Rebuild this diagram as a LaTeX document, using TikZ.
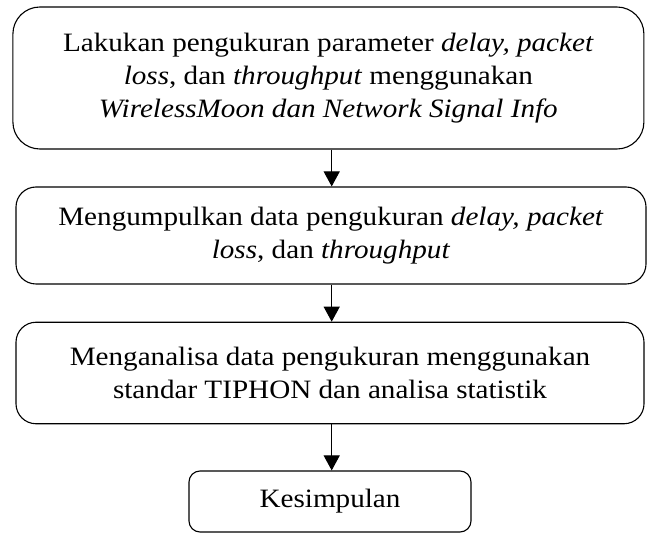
\documentclass[tikz,border=0pt]{standalone}
\usepackage{fontspec}
\setmainfont{Liberation Serif}[FakeStretch=1.1]
\usetikzlibrary{arrows.meta}
\begin{document}
\begin{tikzpicture}[x=1pt,y=-1pt,
 box/.style={draw,line width=1.1pt,align=center,inner sep=0pt,font=\fontsize{26.5}{33}\selectfont},
 arr/.style={line width=1.1pt,-{Triangle[width=16pt,length=15pt]}}]
\useasboundingbox[fill=white] (0,0) rectangle (654,534);
\node[box,rounded corners=27pt,minimum width=631pt,minimum height=142pt] (b1) at (328.4,78)
 {Lakukan pengukuran parameter \textit{delay, packet}\\ \textit{loss}, dan \textit{throughput} menggunakan\\ \textit{WirelessMoon dan Network Signal Info}};
\node[box,rounded corners=20pt,minimum width=630pt,minimum height=97pt] (b2) at (331,235.5)
 {Mengumpulkan data pengukuran \textit{delay, packet}\\ \textit{loss}, dan \textit{throughput}};
\node[box,rounded corners=20pt,minimum width=628pt,minimum height=101.5pt] (b3) at (330,373)
 {Menganalisa data pengukuran menggunakan\\ standar TIPHON dan analisa statistik};
\node[box,rounded corners=11pt,minimum width=282pt,minimum height=61pt] (b4) at (330,501.5)
 {Kesimpulan};
\coordinate (ax) at (331.7,0);
\draw[arr] (b1.south -| ax) -- (b2.north -| ax);
\draw[arr] (b2.south -| ax) -- (b3.north -| ax);
\draw[arr] (b3.south -| ax) -- (b4.north -| ax);
\end{tikzpicture}
\end{document}
